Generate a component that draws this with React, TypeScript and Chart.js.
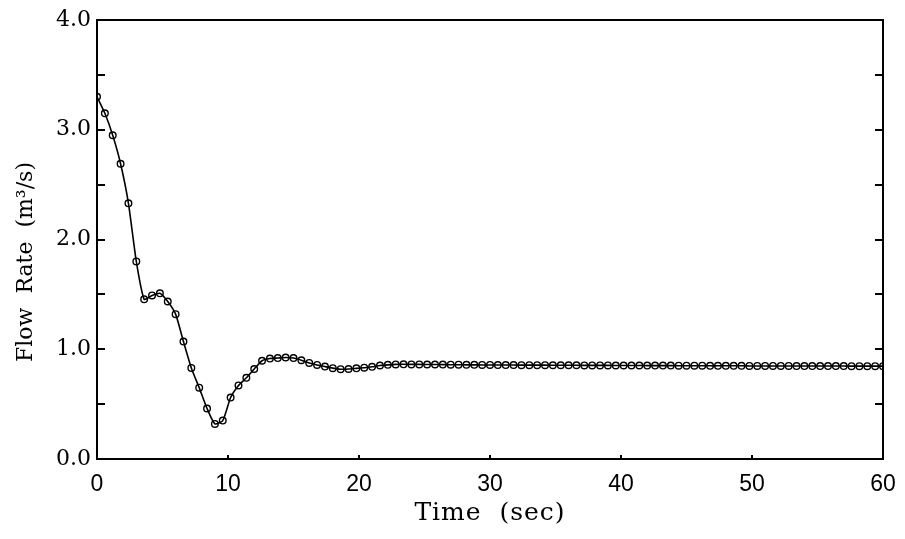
import React, { useEffect, useRef } from "react";
import { Chart, registerables } from "chart.js";

Chart.register(...registerables);

const timeSec: number[] = [
  0, 0.6, 1.2, 1.8, 2.4, 3.0, 3.6, 4.2, 4.8, 5.4,
  6.0, 6.6, 7.2, 7.8, 8.4, 9.0, 9.6, 10.2, 10.8, 11.4,
  12.0, 12.6, 13.2, 13.8, 14.4, 15.0, 15.6, 16.2, 16.8, 17.4,
  18.0, 18.6, 19.2, 19.8, 20.4, 21.0, 21.6, 22.2, 22.8, 23.4,
  24.0, 24.6, 25.2, 25.8, 26.4, 27.0, 27.6, 28.2, 28.8, 29.4,
  30.0, 30.6, 31.2, 31.8, 32.4, 33.0, 33.6, 34.2, 34.8, 35.4,
  36.0, 36.6, 37.2, 37.8, 38.4, 39.0, 39.6, 40.2, 40.8, 41.4,
  42.0, 42.6, 43.2, 43.8, 44.4, 45.0, 45.6, 46.2, 46.8, 47.4,
  48.0, 48.6, 49.2, 49.8, 50.4, 51.0, 51.6, 52.2, 52.8, 53.4,
  54.0, 54.6, 55.2, 55.8, 56.4, 57.0, 57.6, 58.2, 58.8, 59.4,
  60.0,
];

const flowRate: number[] = [
  3.30, 3.15, 2.95, 2.69, 2.33, 1.80, 1.455, 1.49, 1.51, 1.435,
  1.32, 1.07, 0.83, 0.65, 0.46, 0.32, 0.35, 0.56, 0.67, 0.74,
  0.82, 0.895, 0.915, 0.92, 0.925, 0.92, 0.90, 0.875, 0.857, 0.842,
  0.828, 0.818, 0.82, 0.826, 0.832, 0.84, 0.852, 0.858, 0.862, 0.863,
  0.862, 0.862, 0.861, 0.861, 0.86, 0.859, 0.859, 0.858, 0.858, 0.857,
  0.857, 0.856, 0.856, 0.856, 0.855, 0.855, 0.855, 0.855, 0.854, 0.854,
  0.854, 0.854, 0.853, 0.853, 0.853, 0.853, 0.852, 0.852, 0.852, 0.852,
  0.851, 0.851, 0.851, 0.851, 0.85, 0.85, 0.85, 0.85, 0.849, 0.849,
  0.849, 0.849, 0.849, 0.848, 0.848, 0.848, 0.848, 0.848, 0.848, 0.847,
  0.847, 0.847, 0.847, 0.847, 0.847, 0.847, 0.846, 0.846, 0.846, 0.846,
  0.846,
];

const xTitle = "Time  (sec)";
const yTitle = "Flow  Rate  (m\u00B3/s)";

const titlesPlugin = {
  id: "titles",
  afterDraw(chart: any) {
    const { ctx, chartArea } = chart;
    ctx.save();
    ctx.fillStyle = "#000";
    ctx.textAlign = "center";
    ctx.textBaseline = "middle";
    ctx.font = '25px "DejaVu Serif"';
    try { (ctx as any).letterSpacing = "1px"; } catch (e) {}
    ctx.fillText(xTitle, (chartArea.left + chartArea.right) / 2, 513);
    ctx.translate(26, 262);
    ctx.rotate(-Math.PI / 2);
    ctx.font = '22px "DejaVu Serif"';
    try { (ctx as any).letterSpacing = "0px"; } catch (e) {}
    ctx.fillText(yTitle, 0, 0);
    ctx.restore();
  },
};

const noPad = (s: any) => {
  s.paddingLeft = 0;
  s.paddingRight = 0;
  s.paddingTop = 0;
  s.paddingBottom = 0;
};

export default function App() {
  const ref = useRef<HTMLCanvasElement>(null);
  useEffect(() => {
    if (!ref.current) return;
    const chart = new Chart(ref.current, {
      type: "line",
      data: {
        datasets: [
          {
            data: timeSec.map((t, i) => ({ x: t, y: flowRate[i] })),
            borderColor: "#000",
            borderWidth: 1.6,
            tension: 0.2,
            pointRadius: 3.3,
            pointBorderWidth: 1.4,
            pointBorderColor: "#000",
            pointBackgroundColor: "rgba(0,0,0,0)",
            fill: false,
          },
        ],
      },
      options: {
        animation: false,
        responsive: false,
        layout: { padding: 0 },
        plugins: { legend: { display: false }, tooltip: { enabled: false } },
        scales: {
          x: {
            type: "linear",
            position: "bottom",
            min: 0,
            max: 60,
            afterFit: (s: any) => { s.height = 80; noPad(s); },
            ticks: {
              stepSize: 10,
              color: "#000",
              padding: 16,
              font: { family: '"Liberation Sans"', size: 23 },
              maxRotation: 0,
            },
            grid: {
              drawOnChartArea: false,
              drawTicks: true,
              tickLength: -4,
              color: "#000",
              lineWidth: 2,
            },
            border: { display: true, color: "#000", width: 2 },
          },
          x2: {
            type: "linear",
            position: "top",
            min: 0,
            max: 60,
            afterFit: (s: any) => { s.height = 20; noPad(s); },
            ticks: { display: false },
            grid: { display: false },
            border: { display: true, color: "#000", width: 2 },
          },
          y: {
            type: "linear",
            position: "left",
            min: 0,
            max: 4,
            afterFit: (s: any) => { s.width = 97; noPad(s); },
            ticks: {
              stepSize: 0.5,
              color: "#000",
              padding: 14,
              font: { family: '"DejaVu Serif"', size: 22 },
              callback: (v: any) => (Number.isInteger(v) ? Number(v).toFixed(1) : ""),
            },
            grid: {
              drawOnChartArea: false,
              drawTicks: true,
              tickLength: -8,
              color: "#000",
              lineWidth: 2,
            },
            border: { display: true, color: "#000", width: 2 },
          },
          y2: {
            type: "linear",
            position: "right",
            min: 0,
            max: 4,
            afterFit: (s: any) => { s.width = 22; noPad(s); },
            ticks: { stepSize: 0.5, display: false },
            grid: {
              drawOnChartArea: false,
              drawTicks: true,
              tickLength: -8,
              color: "#000",
              lineWidth: 2,
            },
            border: { display: true, color: "#000", width: 2 },
          },
        },
      },
      plugins: [titlesPlugin],
    });
    return () => chart.destroy();
  }, []);
  return (
    <div style={{ position: "fixed", left: 0, top: 0, width: 905, height: 539, background: "#fff" }}>
      <canvas ref={ref} width={905} height={539} />
    </div>
  );
}
